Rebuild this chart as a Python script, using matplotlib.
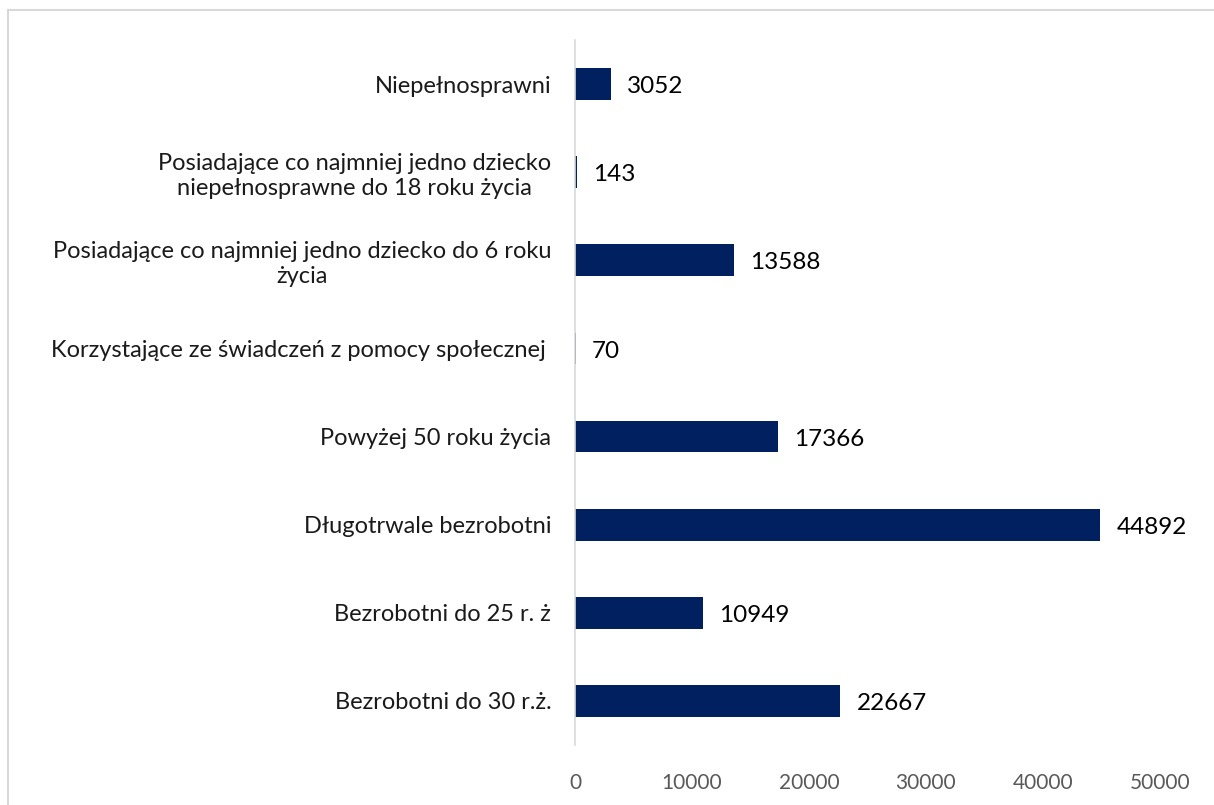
import matplotlib.pyplot as plt
from matplotlib.lines import Line2D

plt.rcParams['font.family'] = ['Lato', 'DejaVu Sans']

categories = [
    'Bezrobotni do 30 r.ż.',
    'Bezrobotni do 25 r. ż',
    'Długotrwale bezrobotni',
    'Powyżej 50 roku życia',
    'Korzystające ze świadczeń z pomocy społecznej ',
    'Posiadające co najmniej jedno dziecko do 6 roku\nżycia',
    'Posiadające co najmniej jedno dziecko\nniepełnosprawne do 18 roku życia',
    'Niepełnosprawni',
]
values = [22667, 10949, 44892, 17366, 70, 13588, 143, 3052]
x_ticks = [0, 10000, 20000, 30000, 40000, 50000]

fig = plt.figure(figsize=(12.14, 8.05), dpi=100)
ax = fig.add_axes([0.4736, 0.0745, 0.4819, 0.8758])

pos = range(len(categories))
ax.barh(pos, values, height=0.36, color='#002060')
for p, v in zip(pos, values):
    ax.text(v + 1400, p - 0.03, str(v), va='center', ha='left', fontsize=17.5, color='black')

ax.set_xlim(0, 50000)
ax.set_ylim(-0.5, len(categories) - 0.5)
ax.set_yticks(list(pos))
ax.set_yticklabels(categories, fontsize=17, color='#1a1a1a', multialignment='center')
ax.set_xticks(x_ticks)
ax.set_xticklabels([str(t) for t in x_ticks], fontsize=15, color='#595959')
ax.tick_params(axis='y', length=0, pad=17)
ax.tick_params(axis='x', length=0, pad=20)

for s in ['top', 'right', 'bottom']:
    ax.spines[s].set_visible(False)
ax.spines['left'].set_color('#d9d9d9')
ax.spines['left'].set_linewidth(1.2)

# light frame around chart area
fig.add_artist(Line2D([8 / 1214, 1], [1 - 10 / 805, 1 - 10 / 805], color='#d9d9d9', lw=1.5))
fig.add_artist(Line2D([8 / 1214, 8 / 1214], [0, 1 - 10 / 805], color='#d9d9d9', lw=1.5))

fig.savefig('out.png', dpi=100)
